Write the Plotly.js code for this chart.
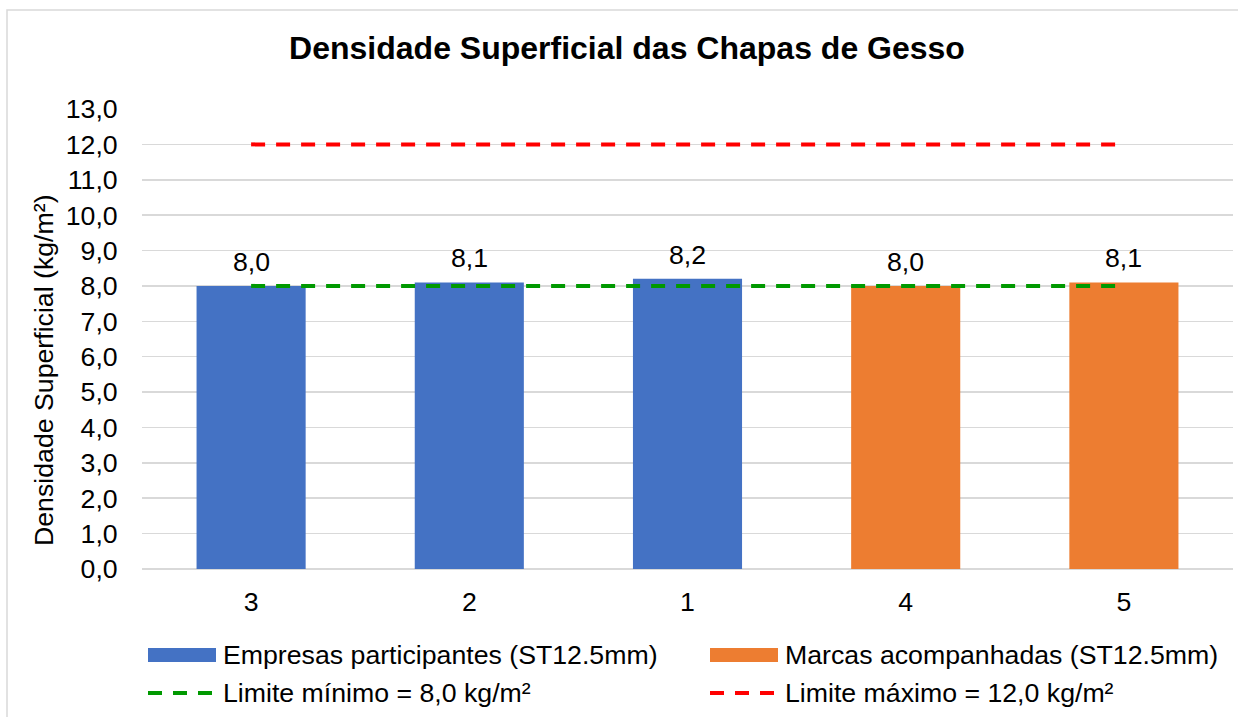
<!DOCTYPE html>
<html>
<head>
<meta charset="utf-8">
<script src="https://cdn.plot.ly/plotly-3.0.1.min.js"></script>
<style>html,body{margin:0;padding:0;background:#fff;}#chart{width:1238px;height:717px;}</style>
</head>
<body>
<div id="chart"></div>
<script>
// Data
var catsEmpresas = ['3', '2', '1'];
var valsEmpresas = [8.0, 8.1, 8.2];
var catsMarcas = ['4', '5'];
var valsMarcas = [8.0, 8.1];
var allCats = ['3', '2', '1', '4', '5'];
var limiteMin = 8.0;
var limiteMax = 12.0;
var nameEmpresas = 'Empresas participantes (ST12.5mm)';
var nameMarcas = 'Marcas acompanhadas (ST12.5mm)';
var nameMin = 'Limite mínimo = 8,0 kg/m²';
var nameMax = 'Limite máximo = 12,0 kg/m²';
var titleText = 'Densidade Superficial das Chapas de Gesso';
var yTitle = 'Densidade Superficial (kg/m²)';

var FONT = 'Liberation Sans, Arial, sans-serif';
var FS = 26.7;
var W = 1238, H = 717;
var L = 142, R = 1233, T = 109, B = 569;
function px2x(p){ return (p - L) / (R - L); }
function px2y(p){ return (B - p) / (B - T); }

var traces = [
  {type:'bar', x:catsEmpresas, y:valsEmpresas, name:nameEmpresas, width:0.5,
   marker:{color:'#4472C4'}, hoverinfo:'x+y'},
  {type:'bar', x:catsMarcas, y:valsMarcas, name:nameMarcas, width:0.5,
   marker:{color:'#ED7D31'}, hoverinfo:'x+y'},
  {type:'scatter', mode:'lines', x:allCats, y:allCats.map(function(){return limiteMin;}), name:nameMin,
   line:{color:'#009900', width:4, dash:'14px,11px'}},
  {type:'scatter', mode:'lines', x:allCats, y:allCats.map(function(){return limiteMax;}), name:nameMax,
   line:{color:'#FF0000', width:4, dash:'14px,11px'}}
];

function fmt(v){ return v.toFixed(1).replace('.', ','); }

var annotations = [];
function addLabels(cats, vals){
  cats.forEach(function(c, i){
    annotations.push({x:allCats.indexOf(c), y:vals[i], xref:'x', yref:'y', text:fmt(vals[i]),
      showarrow:false, yanchor:'middle', yshift:24, font:{family:FONT, size:FS, color:'#000'}});
  });
}
addLabels(catsEmpresas, valsEmpresas);
addLabels(catsMarcas, valsMarcas);

// Y axis title (positioned like the reference)
annotations.push({xref:'paper', yref:'paper', x:px2x(44), y:px2y(370), xanchor:'center', yanchor:'middle',
  textangle:-90, text:yTitle, showarrow:false, font:{family:FONT, size:FS, color:'#000'}});

// Manual legend
var legendItems = [
  {name:nameEmpresas, kind:'rect', color:'#4472C4', x0:148, x1:216, ty:655, tx:221},
  {name:nameMarcas, kind:'rect', color:'#ED7D31', x0:710, x1:778, ty:655, tx:783},
  {name:nameMin, kind:'line', color:'#009900', x0:148, x1:218, ty:693, tx:221},
  {name:nameMax, kind:'line', color:'#FF0000', x0:710, x1:780, ty:693, tx:783}
];
var shapes = [
  {type:'rect', xref:'paper', yref:'paper', x0:px2x(7), x1:px2x(1250), y0:px2y(730), y1:px2y(10),
   line:{color:'#D9D9D9', width:1.5}, fillcolor:'rgba(0,0,0,0)', layer:'below'}
];
legendItems.forEach(function(it){
  if (it.kind === 'rect') {
    shapes.push({type:'rect', xref:'paper', yref:'paper', x0:px2x(it.x0), x1:px2x(it.x1),
      y0:px2y(it.ty + 7), y1:px2y(it.ty - 7), fillcolor:it.color, line:{width:0}});
  } else {
    shapes.push({type:'line', xref:'paper', yref:'paper', x0:px2x(it.x0), x1:px2x(it.x1),
      y0:px2y(it.ty), y1:px2y(it.ty), line:{color:it.color, width:4, dash:'14px,11px'}});
  }
  annotations.push({xref:'paper', yref:'paper', x:px2x(it.tx), y:px2y(it.ty), xanchor:'left', yanchor:'middle',
    text:it.name, showarrow:false, font:{family:FONT, size:FS, color:'#000'}});
});

var layout = {
  width:W, height:H,
  margin:{l:L, r:W - R, t:T, b:H - B, pad:0},
  paper_bgcolor:'#fff', plot_bgcolor:'#fff',
  showlegend:false,
  barmode:'overlay',
  separators:',.',
  font:{family:FONT, size:FS, color:'#000'},
  title:{text:'<b>' + titleText + '</b>', font:{family:FONT, size:32, color:'#000'},
    xref:'container', yref:'container', x:627/W, y:1 - 48/H, xanchor:'center', yanchor:'middle'},
  xaxis:{type:'category', categoryorder:'array', categoryarray:allCats, range:[-0.5, 4.5],
    showgrid:false, showline:false, zeroline:false, ticks:'outside', ticklen:9, tickcolor:'rgba(0,0,0,0)',
    tickfont:{family:FONT, size:FS, color:'#000'}, fixedrange:true},
  yaxis:{range:[0, 13], dtick:1, tick0:0, tickformat:'.1f', showgrid:true, gridcolor:'#D9D9D9', gridwidth:1.5,
    zeroline:true, zerolinecolor:'#D9D9D9', zerolinewidth:1.5, showline:false,
    ticks:'outside', ticklen:18, tickcolor:'rgba(0,0,0,0)',
    tickfont:{family:FONT, size:FS, color:'#000'}, fixedrange:true},
  shapes:shapes,
  annotations:annotations
};

Plotly.newPlot('chart', traces, layout, {displayModeBar:false, staticPlot:true});
</script>
</body>
</html>
